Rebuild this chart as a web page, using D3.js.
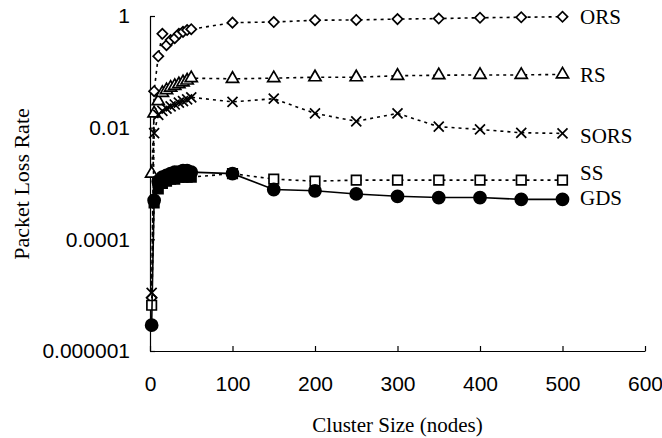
<!DOCTYPE html>
<html>
<head>
<meta charset="utf-8">
<script src="https://cdn.jsdelivr.net/npm/d3@7"></script>
<style>
  body { margin: 0; background: #fff; }
  svg { display: block; font-family: "Liberation Serif", "Times New Roman", serif; }
  .axis path, .axis line { stroke: #000; stroke-width: 1.2; }
  .axis text { font-size: 21px; fill: #000; }
</style>
</head>
<body>
<svg id="chart"></svg>
<script>
// cluster sizes (nodes)
var sizes = [2, 5, 10, 15, 20, 25, 30, 35, 40, 45, 50, 100, 150, 200, 250, 300, 350, 400, 450, 500];

// packet loss rate per scheme
var ors  = [9e-6, 0.045, 0.19, 0.48, 0.30, 0.37, 0.40, 0.48, 0.52, 0.56, 0.58, 0.76, 0.78, 0.84, 0.85, 0.88, 0.9, 0.93, 0.95, 0.97];
var rs   = [0.0015, 0.018, 0.03, 0.042, 0.047, 0.052, 0.056, 0.06, 0.065, 0.07, 0.077, 0.075, 0.077, 0.08, 0.08, 0.085, 0.087, 0.088, 0.088, 0.09];
var sors = [1.1e-5, 0.008, 0.017, 0.02, 0.022, 0.024, 0.026, 0.028, 0.03, 0.032, 0.035, 0.029, 0.033, 0.018, 0.013, 0.018, 0.0104, 0.0093, 0.0081, 0.0079];
var ss   = [6.6e-6, 4.5e-4, 8e-4, 0.001, 0.0011, 0.0012, 0.0012, 0.0013, 0.0013, 0.0013, 0.0013, 0.0015, 0.0012, 0.0011, 0.00115, 0.00115, 0.00115, 0.00115, 0.00115, 0.00115];
var gds  = [2.9e-6, 5e-4, 0.0011, 0.0013, 0.0014, 0.0015, 0.0016, 0.0016, 0.0017, 0.0017, 0.0016, 0.0015, 7.8e-4, 7.4e-4, 6.5e-4, 5.9e-4, 5.6e-4, 5.6e-4, 5.2e-4, 5.2e-4];

var seriesNames = ["ORS", "RS", "SORS", "SS", "GDS"];
var xTicks = [0, 100, 200, 300, 400, 500, 600];
var yTicks = [1e-6, 1e-4, 1e-2, 1];
var yTickLabels = ["0.000001", "0.0001", "0.01", "1"];

var width = 662, height = 438;
var svg = d3.select("#chart").attr("width", width).attr("height", height);
svg.append("rect").attr("width", width).attr("height", height).attr("fill", "#fff");

var x = d3.scaleLinear().domain([0, 600]).range([150, 645]);
var y = d3.scaleLog().domain([1e-6, 1]).range([351, 16]);

// x axis
svg.append("g")
    .attr("class", "axis")
    .attr("transform", "translate(0," + y(1e-6) + ")")
    .call(d3.axisBottom(x).tickValues(xTicks).tickSize(-5).tickSizeOuter(0).tickPadding(25).tickFormat(d3.format("d")));

// y axis
svg.append("g")
    .attr("class", "axis")
    .attr("transform", "translate(" + x(0) + ",0)")
    .call(d3.axisLeft(y).tickValues(yTicks).tickSize(-5).tickSizeOuter(0).tickPadding(20)
      .tickFormat(function(d, i) { return yTickLabels[i]; }));

// axis titles
svg.append("text")
    .attr("x", (x(0) + x(600)) / 2)
    .attr("y", 432)
    .attr("text-anchor", "middle")
    .style("font-size", "21px")
    .text("Cluster Size (nodes)");

svg.append("text")
    .attr("transform", "translate(21," + 184 + ") rotate(-90)")
    .attr("text-anchor", "middle")
    .attr("dy", "0.35em")
    .style("font-size", "22px")
    .text("Packet Loss Rate");

var diamond = d3.symbol().type(d3.symbolSquare).size(52)();
var triangle = d3.symbol().type(d3.symbolTriangle).size(64)();
var cross = "M-5,-5L5,5M-5,5L5,-5";
var square = d3.symbol().type(d3.symbolSquare).size(90)();
var circle = d3.symbol().type(d3.symbolCircle).size(115)();

var series = [
  { name: "ORS",  values: ors,  dash: "3,4", shape: diamond,  rot: 45, labelDy: 0 },
  { name: "RS",   values: rs,   dash: "3,4", shape: triangle, rot: 0,  labelDy: 0 },
  { name: "SORS", values: sors, dash: "3,4", shape: cross,    rot: 0,  labelDy: 2 },
  { name: "SS",   values: ss,   dash: "3,4", shape: square,   rot: 0,  labelDy: -7 },
  { name: "GDS",  values: gds,  dash: null,  shape: circle,   rot: 0,  labelDy: -2 }
];

var line = d3.line()
    .x(function(d) { return x(d[0]); })
    .y(function(d) { return y(d[1]); });

series.forEach(function(s) {
  var pts = sizes.map(function(v, i) { return [v, s.values[i]]; });

  svg.append("path")
      .datum(pts)
      .attr("fill", "none")
      .attr("stroke", "#000")
      .attr("stroke-width", 1.6)
      .attr("stroke-dasharray", s.dash)
      .attr("d", line);

  svg.selectAll(".m-" + s.name)
      .data(pts)
      .enter().append("path")
      .attr("class", "m-" + s.name)
      .attr("d", s.shape)
      .attr("transform", function(d) {
        return "translate(" + x(d[0]) + "," + y(d[1]) + ") rotate(" + s.rot + ")";
      })
      .attr("stroke", "#000")
      .attr("stroke-width", 1.7)
      .attr("fill", function(d) {
        if (s.name === "GDS") return "#000";
        if (s.name === "SS" && d[0] >= 5 && d[0] <= 100) return "#000";
        return "#fff";
      });

  var last = pts[pts.length - 1];
  svg.append("text")
      .attr("x", 580)
      .attr("y", y(last[1]) + s.labelDy)
      .attr("dy", "0.35em")
      .style("font-size", "21px")
      .text(s.name);
});
</script>
</body>
</html>
